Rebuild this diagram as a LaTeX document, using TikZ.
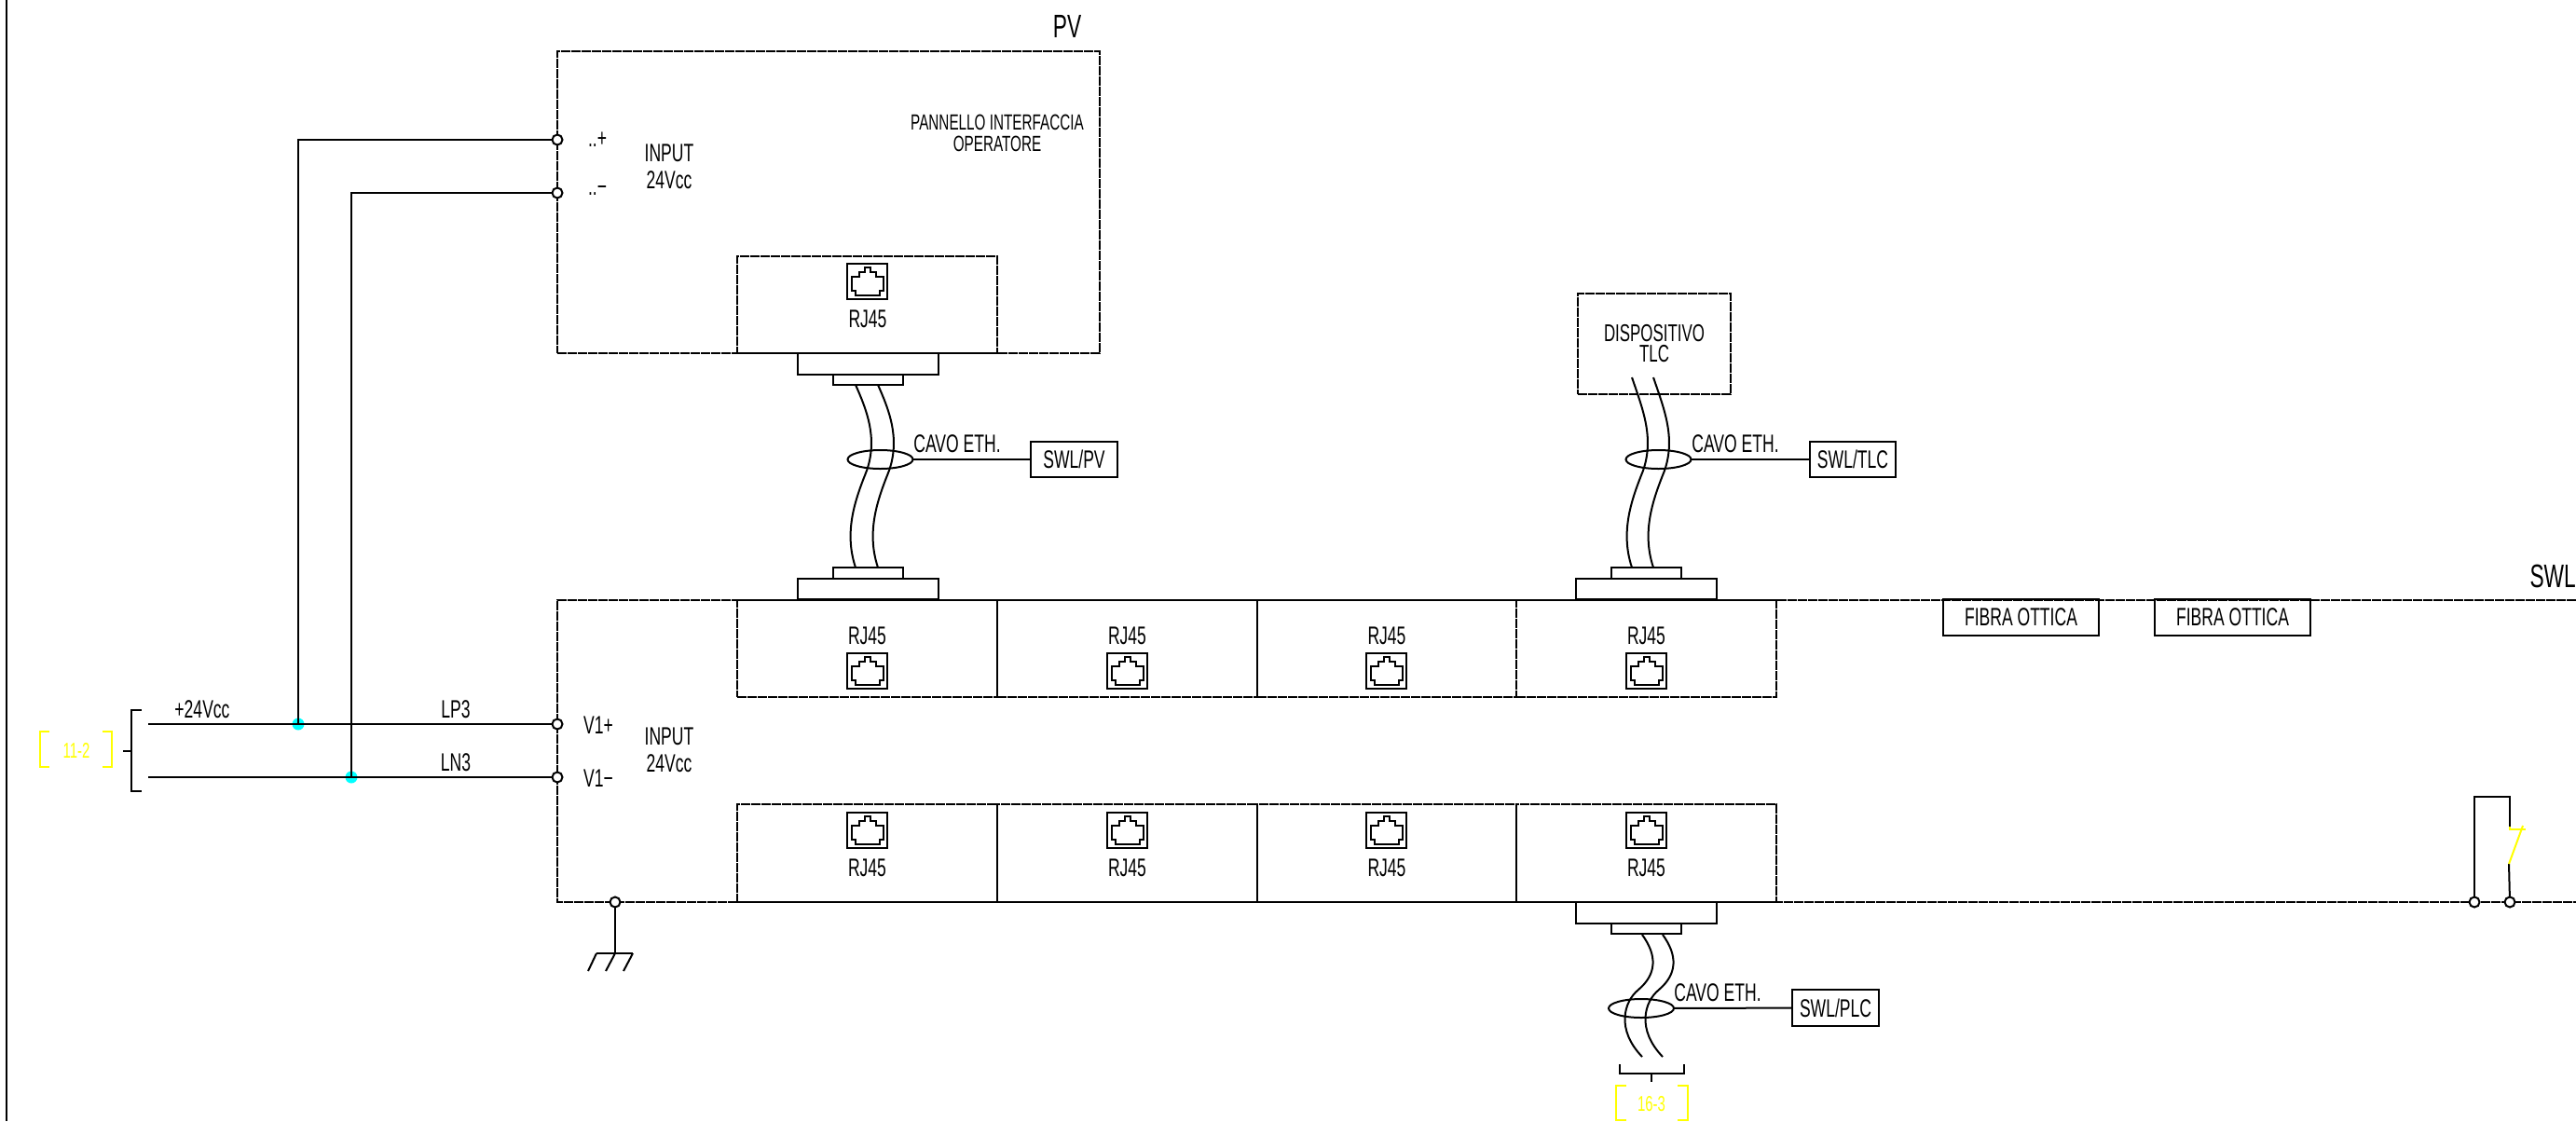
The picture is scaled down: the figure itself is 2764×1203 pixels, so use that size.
\documentclass[tikz,border=0pt]{standalone}
\usepackage{fontspec}
\setmainfont[FakeStretch=0.65]{Liberation Sans}
\usetikzlibrary{shapes.geometric}
\definecolor{jointcyan}{RGB}{0,255,255}
\definecolor{tagyellow}{RGB}{255,255,0}
\tikzset{
    lab/.style={inner sep=0pt, align=center, font=\fontsize{27}{28.5}\selectfont},
    small/.style={inner sep=0pt, align=center, font=\fontsize{23.5}{23}\selectfont},
    big/.style={inner sep=0pt, font=\fontsize{35}{36}\selectfont},
    tag/.style={inner sep=0pt, text=tagyellow, font=\fontsize{23}{22}\selectfont},
    dashline/.style={line width=2pt, dash pattern=on 10pt off 1pt},
    wire/.style={line width=2pt},
    cell/.style={draw, dashline, inner sep=0pt, outer sep=0pt, minimum height=104pt},
    box/.style={draw, wire, inner sep=0pt, outer sep=0pt, minimum height=38pt},
    plugout/.style={draw, wire, fill=white, inner sep=0pt, outer sep=0pt, minimum width=151pt, minimum height=23pt},
    plugin/.style={draw, wire, fill=white, inner sep=0pt, outer sep=0pt, minimum width=75pt, minimum height=11pt},
    rjbox/.style={draw, wire, inner sep=0pt, outer sep=0pt, minimum width=43pt, minimum height=38pt},
    term/.style={draw, circle, wire, fill=white, inner sep=0pt, outer sep=0pt, minimum size=11pt},
    joint/.style={circle, fill=jointcyan, inner sep=0pt, outer sep=0pt, minimum size=13pt},
    clamp/.style={draw, wire, ellipse, inner sep=0pt, outer sep=0pt, minimum width=70pt, minimum height=20pt},
}
\begin{document}
\begin{tikzpicture}[x=1pt, y=-1pt]
\useasboundingbox (0,0) rectangle (2764,1203);
\draw[wire] (7,0)--(7,1203);

% PV panel
\node[draw, dashline, inner sep=0pt, outer sep=0pt, minimum width=582pt, minimum height=324pt] (pv) at (889,217) {};
\node[big] (pvname) at (1145,28) {PV};
\node[small] (pvtext) at (1070,143) {PANNELLO INTERFACCIA\\OPERATORE};
\node[cell, minimum width=279pt] (pvcell) at (930.5,327) {};
\node[lab] (pvrj) at (931,342) {RJ45};
\node[lab] (pvplus) at (641,150) {..+};
\node[lab] (pvminus) at (641,205) {..−};
\node[lab] (pvinput) at (718,179) {INPUT\\24Vcc};

% SWL outline and ports
\draw[dashline] (2764,644)--(598,644)--(598,968)--(2764,968);
\node[big, anchor=east] (swlname) at (2764,618) {SWL};
\foreach \n/\x/\w in {a/930.5/279,b/1209.5/279,c/1488/278,d/1766.5/279}
{
    \node[cell, minimum width=\w pt] (top\n) at (\x,696) {};
    \node[lab] (toprj\n) at (\x,682) {RJ45};
    \node[cell, minimum width=\w pt, minimum height=105pt] (bot\n) at (\x,915.5) {};
    \node[lab] (botrj\n) at (\x,931) {RJ45};
}
\node[lab] (swlinput) at (718,805) {INPUT\\24Vcc};
\node[lab] (vp) at (642,778) {V1+};
\node[lab] (vm) at (642,835) {V1−};

% RJ45 sockets
\foreach \x/\y in {930.5/302,930.5/720,1209.5/720,1487.5/720,1766.5/720,930.5/891,1209.5/891,1487.5/891,1766.5/891}
{
    \node[rjbox] at (\x,\y) {};
    \draw[wire, shift={(\x,\y)}] (-17,-5)--(-9,-5)--(-9,-10)--(-3,-10)--(-3,-15)--(3,-15)--(3,-10)--(9,-10)--(9,-5)--(17,-5)--(17,10)--(13,10)--(13,15)--(-13,15)--(-13,10)--(-17,10)--cycle;
}

% connectors on the ports
\node[plugout] (pvout) at (931,390.5) {};
\node[plugin] (pvin) at (931,407.5) {};
\node[plugin, minimum height=12pt] (swlin) at (931,615) {};
\node[plugout, minimum height=22pt] (swlout) at (931,632) {};
\node[plugin, minimum height=12pt] (tlcin) at (1766,615) {};
\node[plugout, minimum height=22pt] (tlcout) at (1766,632) {};
\node[plugout] (plcout) at (1766,979.5) {};
\node[plugin] (plcin) at (1766,996.5) {};

% Ethernet cables
\foreach \x/\t in {918/413,942/413,1751/405,1774/405}
{
    \draw[wire] (\x,\t) .. controls (\x+12,440) and (\x+24,470) .. (\x+12,505) .. controls (\x,535) and (\x-13,570) .. (\x,609);
}
\foreach \x in {1762,1784}
{
    \draw[wire] (\x,1003) .. controls (\x+16,1025) and (\x+16,1045) .. (\x-4,1062) .. controls (\x-20,1075) and (\x-28,1105) .. (\x,1134);
}

\node[clamp] (pvclamp) at (944.5,493) {};
\node[clamp] (tlcclamp) at (1779.5,493) {};
\node[clamp] (plcclamp) at (1761,1082) {};
\node[box, minimum width=93pt, lab] (swlpv) at (1152.5,493) {SWL/PV};
\node[box, minimum width=92pt, lab] (swltlc) at (1988,493) {SWL/TLC};
\node[box, minimum width=93pt, minimum height=39pt, lab] (swlplc) at (1969.5,1081.5) {SWL/PLC};
\draw[wire] (pvclamp)--(swlpv);
\draw[wire] (tlcclamp)--(swltlc);
\draw[wire] (plcclamp)--(swlplc);
\node[lab] (cavopv) at (1027,476) {CAVO ETH.};
\node[lab] (cavotlc) at (1862,476) {CAVO ETH.};
\node[lab] (cavoplc) at (1843,1065) {CAVO ETH.};

% TLC device
\node[draw, dashline, inner sep=0pt, outer sep=0pt, minimum width=164pt, minimum height=108pt] (tlc) at (1775,369) {};
\node[small, font=\fontsize{26}{22}\selectfont] (tlctext) at (1775,369) {DISPOSITIVO\\TLC};

% optical fibre boxes
\node[box, minimum width=167pt, minimum height=39pt, lab] (fibra1) at (2168.5,662.5) {FIBRA OTTICA};
\node[box, minimum width=167pt, minimum height=39pt, lab] (fibra2) at (2395.5,662.5) {FIBRA OTTICA};

% power supply
\node[joint] (jp) at (320,777) {};
\node[joint] (jm) at (377,834) {};
\node[term] (inp) at (598,150) {};
\node[term] (inm) at (598,207) {};
\node[term] (vip) at (598,777) {};
\node[term] (vim) at (598,834) {};
\coordinate (lp) at (159,777);
\coordinate (ln) at (159,834);
\draw[wire] (lp)--(vip);
\draw[wire] (ln)--(vim);
\draw[wire] (jp.center)|-(inp);
\draw[wire] (jm.center)|-(inm);
\node[lab] (vcc) at (217,761) {+24Vcc};
\node[lab] (lpname) at (489,761) {LP3};
\node[lab] (lnname) at (489,818) {LN3};
\draw[wire] (152,762)--(141,762)--(141,849)--(152,849);
\draw[wire] (132,806)--(141,806);
\draw[wire, tagyellow] (53,785)--(43,785)--(43,823)--(53,823);
\draw[wire, tagyellow] (110,785)--(120,785)--(120,823)--(110,823);
\node[tag] (tag11) at (82,805) {11-2};

% earth
\node[term] (pe) at (660,968) {};
\coordinate (gnd) at (660,1023);
\draw[wire] (pe)--(gnd);
\draw[wire] (640,1023)--(679,1023);
\draw[wire] (640,1023)--(631,1042);
\draw[wire] (gnd)--(650,1042);
\draw[wire] (679,1023)--(669,1042);

% cable end towards 16-3
\draw[wire] (1738,1142)--(1738,1152)--(1807,1152)--(1807,1142);
\draw[wire] (1772,1152)--(1772,1161);
\draw[wire, tagyellow] (1745,1165)--(1734,1165)--(1734,1202)--(1745,1202);
\draw[wire, tagyellow] (1800,1165)--(1811,1165)--(1811,1202)--(1800,1202);
\node[tag] (tag16) at (1772,1185) {16-3};

% loop at the right end
\node[term] (la) at (2655,968) {};
\node[term] (lb) at (2693,968) {};
\coordinate (ltop) at (2693,855);
\coordinate (lt) at (2693,887);
\coordinate (lu) at (2692,927);
\draw[wire] (la)|-(ltop)--(lt);
\draw[wire] (lu)--(lb);
\draw[wire, tagyellow] (lt)--(2693,890)--(2710,890);
\draw[wire, tagyellow] (2707,886)--(lu);
\end{tikzpicture}
\end{document}
